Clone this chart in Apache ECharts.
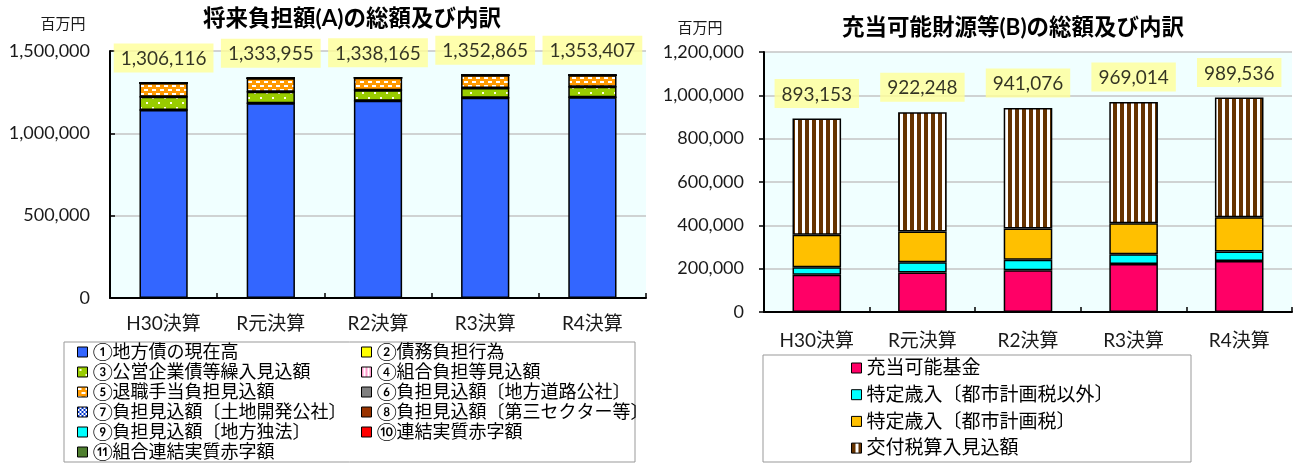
<!DOCTYPE html>
<html><head><meta charset="utf-8">
<script src="https://cdn.jsdelivr.net/npm/echarts@6/dist/echarts.min.js"></script>
<style>html,body{margin:0;padding:0;background:#fff}#c{width:1294px;height:463px}</style>
</head><body><div id="c"></div>
<script>
// ---------- data ----------
const categories = ['H30決算', 'R元決算', 'R2決算', 'R3決算', 'R4決算'];

// 将来負担額(A)
const totalsA = [1306116, 1333955, 1338165, 1352865, 1353407];
const a01 = [1141000, 1182000, 1198000, 1216000, 1219000]; // ①地方債の現在高
const a02 = [0, 0, 0, 0, 0];                               // ②債務負担行為
const a03 = [81000, 71000, 63000, 59000, 64000];           // ③公営企業債等繰入見込額
const a04 = [0, 0, 0, 0, 0];                               // ④組合負担等見込額
const a05 = [84000, 81000, 77000, 78000, 70000];           // ⑤退職手当負担見込額
const a06 = [0, 0, 0, 0, 0];
const a07 = [0, 0, 0, 0, 0];
const a08 = [0, 0, 0, 0, 0];
const a09 = [0, 0, 0, 0, 0];
const a10 = [0, 0, 0, 0, 0];
const a11 = [0, 0, 0, 0, 0];
const namesA = ['①地方債の現在高', '②債務負担行為', '③公営企業債等繰入見込額', '④組合負担等見込額',
  '⑤退職手当負担見込額', '⑥負担見込額〔地方道路公社〕', '⑦負担見込額〔土地開発公社〕',
  '⑧負担見込額〔第三セクター等〕', '⑨負担見込額〔地方独法〕', '⑩連結実質赤字額', '⑪組合連結実質赤字額'];
const yTicksA = [0, 500000, 1000000, 1500000];

// 充当可能財源等(B)
const totalsB = [893153, 922248, 941076, 969014, 989536];
const b1 = [172000, 182000, 193000, 222000, 235000]; // 充当可能基金
const b2 = [35000, 48000, 48000, 45000, 44000];      // 特定歳入〔都市計画税以外〕
const b3 = [149000, 141000, 144000, 143000, 158000]; // 特定歳入〔都市計画税〕
const b4 = [537000, 551000, 556000, 559000, 553000]; // 交付税算入見込額
const namesB = ['充当可能基金', '特定歳入〔都市計画税以外〕', '特定歳入〔都市計画税〕', '交付税算入見込額'];
const yTicksB = [0, 200000, 400000, 600000, 800000, 1000000, 1200000];

// ---------- patterns ----------
function pat(w, h, bg, fg, rects) {
  const c = document.createElement('canvas'); c.width = w; c.height = h;
  const g = c.getContext('2d'); g.fillStyle = bg; g.fillRect(0, 0, w, h);
  g.fillStyle = fg; rects.forEach(r => g.fillRect(r[0], r[1], r[2], r[3]));
  return { image: c, repeat: 'repeat' };
}
const orangeDash = pat(8, 8, '#FF9900', '#FFFFFF', [[0, 1, 4, 2], [4, 5, 4, 2]]);
const greenDots = pat(12, 10, '#99CC00', '#FFFFE0', [[2, 2, 2, 2], [8, 7, 2, 2]]);
const brownStripe = pat(7, 4, '#663300', '#FFFFFF', [[4, 0, 3, 4]]);
const pinkStripe = pat(4, 4, '#FFFFFF', '#FF99CC', [[0, 0, 2, 4]]);
const blueCheck = pat(4, 4, '#FFFFFF', '#0033CC', [[0, 0, 2, 2], [2, 2, 2, 2]]);

const colorsA = ['#3366FF', '#FFFF00', greenDots, pinkStripe, orangeDash, '#808080', blueCheck,
  '#993300', '#00FFFF', '#FF0000', '#4F7F2F'];
const colorsB = ['#FF0066', '#00FFFF', '#FFC000', brownStripe];

const F = "Lato, 'Noto Sans CJK JP', sans-serif";
const fmt = v => Number(v).toLocaleString('en-US');

const dataA = [a01, a02, a03, a04, a05, a06, a07, a08, a09, a10, a11];
const dataB = [b1, b2, b3, b4];

const series = [];
dataA.forEach((d, i) => series.push({
  name: namesA[i], type: 'bar', stack: 'A', xAxisIndex: 0, yAxisIndex: 0, data: d,
  barWidth: '45%', itemStyle: { color: colorsA[i], borderColor: '#000', borderWidth: 1.5 }, silent: true
}));
dataB.forEach((d, i) => series.push({
  name: namesB[i], type: 'bar', stack: 'B', xAxisIndex: 1, yAxisIndex: 1, data: d,
  barWidth: '46%', itemStyle: { color: colorsB[i], borderColor: '#000', borderWidth: 1.5 }, silent: true
}));
const totLabel = {
  show: true, position: 'top', distance: 10, formatter: p => fmt(p.value),
  backgroundColor: '#FFFF99', padding: [6, 7, 4, 7], fontSize: 19, fontFamily: 'Lato', color: '#000'
};
series.push({ name: '合計A', type: 'scatter', xAxisIndex: 0, yAxisIndex: 0, data: totalsA, symbolSize: 1,
  itemStyle: { color: 'rgba(0,0,0,0)' }, label: totLabel, silent: true, z: 10 });
series.push({ name: '合計B', type: 'scatter', xAxisIndex: 1, yAxisIndex: 1, data: totalsB, symbolSize: 1,
  itemStyle: { color: 'rgba(0,0,0,0)' }, label: totLabel, silent: true, z: 10 });

function yAxis(gi, ticks, inside) {
  return {
    gridIndex: gi, type: 'value', min: ticks[0], max: ticks[ticks.length - 1], interval: ticks[1] - ticks[0],
    axisLine: { show: true, lineStyle: { color: '#000', width: 2 } },
    axisTick: { show: true, inside: inside, length: 5, lineStyle: { color: '#000', width: 1.5 } },
    splitLine: { show: true, lineStyle: { color: '#C4C4C4', width: 1.5 } },
    axisLabel: { margin: 20, fontSize: 18, fontFamily: F, color: '#1a1a1a', formatter: v => fmt(v) }
  };
}
function xAxis(gi, margin) {
  return {
    gridIndex: gi, type: 'category', data: categories,
    axisLine: { show: true, lineStyle: { color: '#000', width: 2 } },
    axisTick: { show: true, inside: true, length: 5, lineStyle: { color: '#000', width: 1.5 } },
    axisLabel: { margin: margin, fontSize: 19, fontFamily: F, color: '#1a1a1a' }
  };
}
const legendBase = {
  orient: 'vertical', icon: 'rect', itemWidth: 10, itemHeight: 10, itemGap: 0, selectedMode: false,
  itemStyle: { borderColor: '#000', borderWidth: 1 }, padding: 0
};

const chart = echarts.init(document.getElementById('c'), null, { renderer: 'canvas' });
chart.setOption({
  animation: false,
  backgroundColor: '#fff',
  title: [
    { text: '将来負担額(A)の総額及び内訳', left: 352, top: 6, textAlign: 'center', padding: 0,
      textStyle: { fontSize: 22.5, fontWeight: 'bold', fontFamily: F, color: '#000', lineHeight: 26 } },
    { text: '充当可能財源等(B)の総額及び内訳', left: 1013, top: 15, textAlign: 'center', padding: 0,
      textStyle: { fontSize: 22.5, fontWeight: 'bold', fontFamily: F, color: '#000', lineHeight: 26 } },
    { text: '百万円', left: 63, top: 15, textAlign: 'center', padding: 0,
      textStyle: { fontSize: 15, fontWeight: 'normal', fontFamily: F, color: '#1a1a1a', lineHeight: 18 } },
    { text: '百万円', left: 700, top: 19, textAlign: 'center', padding: 0,
      textStyle: { fontSize: 15, fontWeight: 'normal', fontFamily: F, color: '#1a1a1a', lineHeight: 18 } }
  ],
  grid: [
    { left: 110, top: 51, width: 536, height: 247, show: true, backgroundColor: '#F0FFFF', borderWidth: 0 },
    { left: 764, top: 52, width: 528, height: 260, show: true, backgroundColor: '#F0FFFF', borderWidth: 0 }
  ],
  xAxis: [xAxis(0, 16), xAxis(1, 19)],
  yAxis: [yAxis(0, yTicksA, true), yAxis(1, yTicksB, false)],
  legend: [
    Object.assign({}, legendBase, { left: 77, top: 342,
      data: [namesA[0], namesA[2], namesA[4], namesA[6], namesA[8], namesA[10]],
      textStyle: { fontSize: 18, fontFamily: F, color: '#000', lineHeight: 20 } }),
    Object.assign({}, legendBase, { left: 361, top: 342,
      data: [namesA[1], namesA[3], namesA[5], namesA[7], namesA[9]],
      textStyle: { fontSize: 18, fontFamily: F, color: '#000', lineHeight: 20 } }),
    Object.assign({}, legendBase, { left: 851, top: 358, itemGap: 6.7,
      data: namesB,
      textStyle: { fontSize: 19, fontFamily: F, color: '#000', lineHeight: 20 } })
  ],
  graphic: [
    { type: 'rect', shape: { x: 64, y: 342, width: 571, height: 120 }, style: { fill: 'none', stroke: '#999', lineWidth: 1 }, silent: true },
    { type: 'rect', shape: { x: 763, y: 355, width: 428, height: 107 }, style: { fill: 'none', stroke: '#999', lineWidth: 1 }, silent: true }
  ],
  series: series
});
</script></body></html>
